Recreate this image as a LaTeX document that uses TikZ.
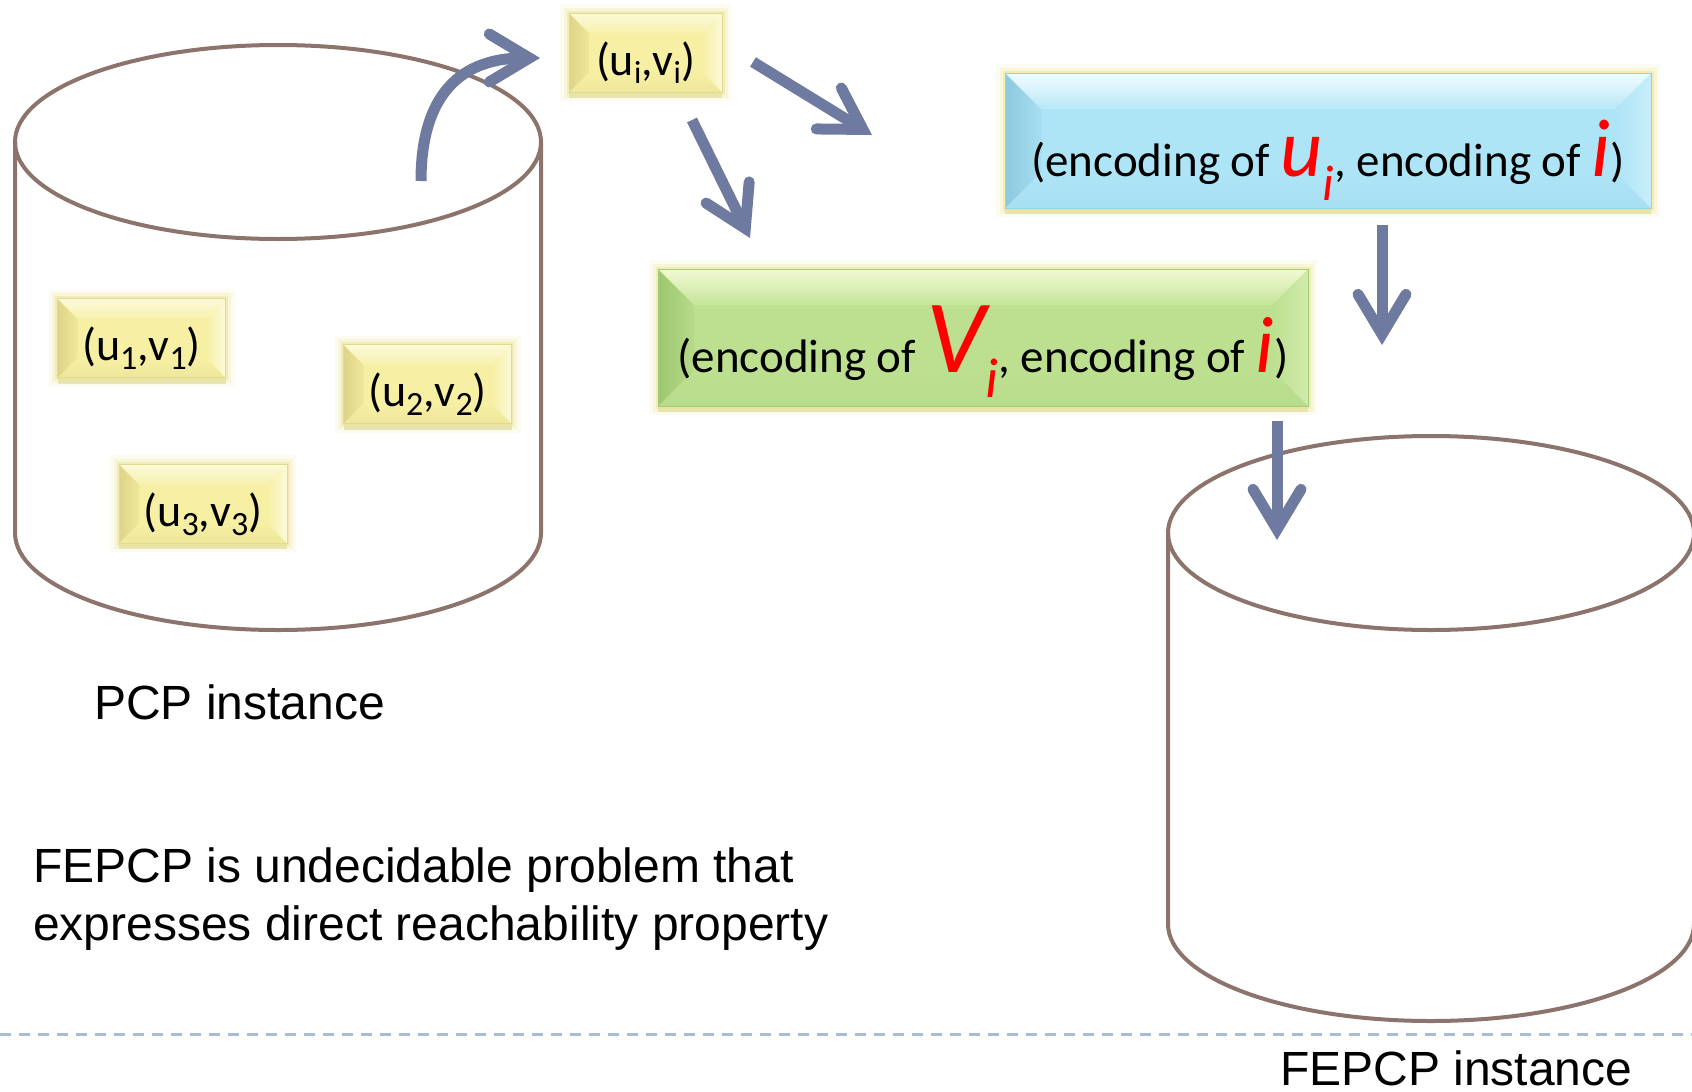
\documentclass[tikz,border=0pt]{standalone}
\usepackage{fontspec}
\setmainfont{Liberation Sans}
\newfontfamily\boxfont{Carlito}
\usetikzlibrary{arrows.meta,calc}

\definecolor{arrowc}{RGB}{111,122,161}
\definecolor{drumc}{RGB}{140,115,107}
\definecolor{rulec}{RGB}{166,189,213}
\definecolor{glowc}{RGB}{236,228,140}
\definecolor{shadowc}{RGB}{205,196,120}
% yellow pair boxes
\definecolor{yface}{RGB}{246,239,164}
\definecolor{yhi}{RGB}{252,250,218}
\definecolor{ylo}{RGB}{222,212,135}
\definecolor{yedge}{RGB}{226,218,140}
% blue box
\definecolor{bface}{RGB}{173,228,246}
\definecolor{bhi}{RGB}{242,252,255}
\definecolor{blo}{RGB}{140,200,222}
\definecolor{bedge}{RGB}{150,210,230}
% green box
\definecolor{gface}{RGB}{188,224,144}
\definecolor{ghi}{RGB}{242,250,212}
\definecolor{glo}{RGB}{158,198,112}
\definecolor{gedge}{RGB}{160,205,120}

% bevelled faces of a box: #1 bevel size, #2..#5 top/left/right/bottom shading
\newcommand\bevelfaces[5]{%
  \path (path picture bounding box.north west) coordinate (bvA)
        (path picture bounding box.north east) coordinate (bvB)
        (path picture bounding box.south east) coordinate (bvC)
        (path picture bounding box.south west) coordinate (bvD);
  \shade[#5] (bvD) -- (bvC) -- ([shift={(-#1,#1)}]bvC) -- ([shift={(#1,#1)}]bvD) -- cycle;
  \shade[#3] (bvA) -- (bvD) -- ([shift={(#1,#1)}]bvD) -- ([shift={(#1,-#1)}]bvA) -- cycle;
  \shade[#4] (bvB) -- (bvC) -- ([shift={(-#1,#1)}]bvC) -- ([shift={(-#1,-#1)}]bvB) -- cycle;
  \shade[#2] (bvA) -- (bvB) -- ([shift={(-#1,-#1)}]bvB) -- ([shift={(#1,-#1)}]bvA) -- cycle;
}
% red italic symbols inside the encoding boxes
\newcommand\redsym[2]{{\color{red}\itshape\fontsize{#1}{#1}\selectfont #2}}
\newcommand\redsub[3]{\raisebox{-#2}{\color{red}\itshape\fontsize{#1}{#1}\selectfont #3}}
% subscripts of the pair boxes
\newcommand\pairsub[1]{\raisebox{-9pt}{\fontsize{34pt}{34pt}\selectfont #1}}

\begin{document}
\begin{tikzpicture}[x=1pt,y=-1pt,
  glow/.style={
    preaction={fill=shadowc, opacity=.45, transform canvas={yshift=-6pt}},
    preaction={draw=glowc, line width=18pt, opacity=.12},
    preaction={draw=glowc, line width=11pt, opacity=.22},
    preaction={draw=glowc, line width=5pt, opacity=.45}},
  pairbox/.style={glow, fill=yface, draw=yedge, line width=0.8pt,
    font=\boxfont\fontsize{46pt}{50pt}\selectfont,
    minimum width=168pt, inner sep=0pt, text height=62pt, text depth=17pt,
    path picture={\bevelfaces{20pt}{top color=yhi,bottom color=yface!80!yhi}%
      {left color=ylo,right color=yface!70!ylo}{left color=yface,right color=yhi}%
      {top color=yface,bottom color=yface!70!ylo}}},
  encbox/.style={glow, line width=0.8pt,
    font=\boxfont\fontsize{47pt}{52pt}\selectfont,
    inner sep=0pt, text height=103pt},
  bluebox/.style={encbox, fill=bface, draw=bedge, minimum width=646pt, text depth=32pt,
    path picture={\bevelfaces{36pt}{top color=bhi,bottom color=bface!85!bhi}%
      {left color=blo,right color=bface!80!blo}{left color=bface,right color=bface!60!bhi}%
      {top color=bface,bottom color=bface!85!blo}}},
  greenbox/.style={encbox, fill=gface, draw=gedge, minimum width=650pt, text depth=34pt,
    path picture={\bevelfaces{36pt}{top color=ghi,bottom color=gface!85!ghi}%
      {left color=glo,right color=gface!80!glo}{left color=gface,right color=gface!60!ghi}%
      {top color=gface,bottom color=gface!85!glo}}},
  drumline/.style={draw=drumc, line width=4pt},
  flow/.style={draw=arrowc, line width=11pt,
    -{Straight Barb[length=40pt 0, width=48pt 0, line cap=round, line join=miter]}},
  caption/.style={font=\fontsize{48pt}{58pt}\selectfont, inner sep=0pt},
  drum/.pic={
    \draw[drumline] (0,0) ellipse [x radius=263, y radius=97];
    \draw[drumline] (-263,0) -- (-263,391)
      arc[start angle=180, end angle=0, x radius=263, y radius=97] -- (263,0);
  }]

\fill[white] (0,0) rectangle (1692,1092);
\useasboundingbox (0,0) rectangle (1692,1092);

% the two instance drums
\pic (pcpdrum) at (278,142) {drum};
\pic (fepdrum) at (1431,533) {drum};

% connector end points
\coordinate (pickS) at (421,181);
\coordinate (pickE) at (540,58);
\coordinate (toUS) at (753,62);
\coordinate (toUE) at (872,135);
\coordinate (toVS) at (692,120);
\coordinate (toVE) at (750,238);
\coordinate (downUS) at (1382,225);
\coordinate (downUE) at (1382,345);
\coordinate (downVS) at (1277,421);
\coordinate (downVE) at (1277,540);

% arrows
\draw[flow] (pickS) .. controls (421,105) and (452,58) .. (pickE);
\draw[flow] (toUS) -- (toUE);
\draw[flow] (toVS) -- (toVE);
\draw[flow] (downUS) -- (downUE);
\draw[flow] (downVS) -- (downVE);

% pairs of the PCP instance
\node[pairbox] (p1) at (141.5,338) {(u\pairsub{1},v\pairsub{1})};
\node[pairbox] (p2) at (427.5,384) {(u\pairsub{2},v\pairsub{2})};
\node[pairbox] (p3) at (203,503.5) {(u\pairsub{3},v\pairsub{3})};
\node[pairbox, minimum width=153pt] (pi) at (645.5,52.5)
  {(u\raisebox{-8pt}{\fontsize{32pt}{32pt}\selectfont i},v\raisebox{-8pt}{\fontsize{32pt}{32pt}\selectfont i})};

% encoded pairs
\node[bluebox] (encu) at (1328,140.5)
  {(encoding of \redsym{82pt}{u}\redsub{50pt}{24pt}{i}, encoding of \redsym{82pt}{i})};
\node[greenbox] (encv) at (983,337.5)
  {(encoding of \redsym{104pt}{V}\redsub{56pt}{25pt}{i}, encoding of \redsym{80pt}{i})};

% captions
\node[caption, anchor=base west] (pcpcap) at (94,719) {PCP instance};
\node[caption, anchor=base west] (fepcap) at (1280,1085) {FEPCP instance};
\node[caption, anchor=north west, align=left] (note) at (33,848)
  {FEPCP is undecidable problem that\\expresses direct reachability property};

% footer rule
\coordinate (ruleL) at (0,1034);
\coordinate (ruleR) at (1692,1034);
\draw[rulec, line width=3pt, dash pattern=on 11pt off 8pt] (ruleL) -- (ruleR);
\end{tikzpicture}
\end{document}
